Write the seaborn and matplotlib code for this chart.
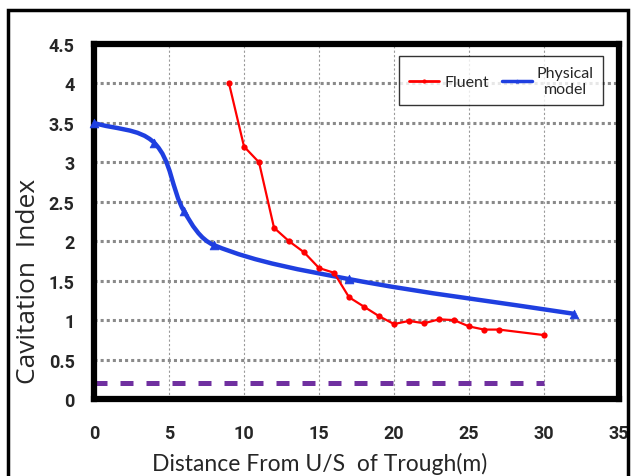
import matplotlib
matplotlib.use('Agg')
import matplotlib.pyplot as plt
from matplotlib.path import Path
from matplotlib.patches import PathPatch, Rectangle
from matplotlib.lines import Line2D
import seaborn as sns
import numpy as np
import pandas as pd

# data
fluent_x = [9, 10, 11, 12, 13, 14, 15, 16, 17, 18, 19, 20, 21, 22, 23, 24, 25, 26, 27, 30]
fluent_y = [4.0, 3.2, 3.0, 2.17, 2.0, 1.86, 1.66, 1.6, 1.29, 1.17, 1.05, 0.95, 0.99, 0.96, 1.01, 1.0, 0.92, 0.88, 0.88, 0.81]
phys_x = [0, 4, 6, 8, 17, 32]
phys_y = [3.5, 3.25, 2.38, 1.95, 1.52, 1.08]
limit_x = [0, 30]
limit_y = [0.2, 0.2]

x_ticks = [0, 5, 10, 15, 20, 25, 30, 35]
x_ticklabels = ['0', '5', '10', '15', '20', '25', '30', '35']
y_ticks = [0, 0.5, 1, 1.5, 2, 2.5, 3, 3.5, 4, 4.5]
y_ticklabels = ['0', '0.5', '1', '1.5', '2', '2.5', '3', '3.5', '4', '4.5']

fluent_df = pd.DataFrame({'x': fluent_x, 'y': fluent_y})
phys_df = pd.DataFrame({'x': phys_x, 'y': phys_y})

sns.set_style('white')
plt.rcParams['font.family'] = ['Lato', 'DejaVu Sans']

fig = plt.figure(figsize=(6.33, 4.77), dpi=100)
ax = fig.add_axes([0.1485, 0.1614, 0.8295, 0.7443])

# gridlines
for v in y_ticks[1:-1]:
    ax.axhline(v, color='#8a8a8a', lw=2.2, ls=(0, (1, 1)), zorder=1)
for v in x_ticks[1:-1]:
    ax.axvline(v, color='#9a9a9a', lw=0.8, ls=(0, (2, 2)), zorder=1)

# dashed limit line
ax.plot(limit_x, limit_y, color='#7030A0', lw=3.6, ls=(0, (2.6, 2.6)), zorder=2)

# fluent series
sns.lineplot(data=fluent_df, x='x', y='y', sort=False, color='#ff0000', lw=1.6,
             marker='o', markersize=4.5, markeredgewidth=0, ax=ax, zorder=4)

# physical model: smoothed line drawn as a bezier path through the points
sx, sy = 15.0, 79.0  # approx px per unit, so tangents follow the drawn shape
pts = np.column_stack([np.array(phys_x) * sx, np.array(phys_y) * sy]).astype(float)
n = len(pts)
tang = np.zeros_like(pts)
for i in range(n):
    a = pts[max(i - 1, 0)]
    b = pts[min(i + 1, n - 1)]
    d = b - a
    tang[i] = d / np.linalg.norm(d)
verts = [tuple(pts[0])]
codes = [Path.MOVETO]
for i in range(n - 1):
    L = np.linalg.norm(pts[i + 1] - pts[i]) / 3
    c1 = pts[i] + tang[i] * L
    c2 = pts[i + 1] - tang[i + 1] * L
    verts += [tuple(c1), tuple(c2), tuple(pts[i + 1])]
    codes += [Path.CURVE4] * 3
verts = [(vx / sx, vy / sy) for vx, vy in verts]
ax.add_patch(PathPatch(Path(verts, codes), fill=False, edgecolor='#1f3fe0', lw=3.2, zorder=3))
sns.scatterplot(data=phys_df, x='x', y='y', color='#1f3fe0', marker='^', s=40,
                edgecolor='#1f3fe0', ax=ax, zorder=5, clip_on=False)

ax.set_xlim(0, 35)
ax.set_ylim(0, 4.5)
tick_font = {'family': ['Roboto', 'DejaVu Sans'], 'weight': 'bold', 'size': 13}
ax.set_xticks(x_ticks)
ax.set_xticklabels(x_ticklabels, fontdict=tick_font)
ax.set_yticks(y_ticks)
ax.set_yticklabels(y_ticklabels, fontdict=tick_font)
ax.tick_params(axis='both', length=0)
ax.tick_params(axis='x', pad=18)
ax.tick_params(axis='y', pad=14)

for sp in ax.spines.values():
    sp.set_visible(True)
    sp.set_color('black')
    sp.set_linewidth(4.5)

ax.set_xlabel('Distance From U/S  of Trough(m)', fontsize=16.5)
ax.set_ylabel('Cavitation  Index', fontsize=19, family=['Open Sans', 'DejaVu Sans'])
ax.xaxis.set_label_coords(0.43, -0.148)
ax.yaxis.set_label_coords(-0.1, 0.335)

handles = [Line2D([], [], color='#ff0000', lw=2, marker='o', markersize=2),
           Line2D([], [], color='#1f3fe0', lw=2.5, marker='^', markersize=2)]
leg = ax.legend(handles, ['Fluent', 'Physical\nmodel'], ncol=2, loc='upper right',
                bbox_to_anchor=(0.97, 0.966), frameon=True, fancybox=False,
                fontsize=11.5, handlelength=1.9, handletextpad=0.3, columnspacing=0.8,
                borderpad=0.6, borderaxespad=0)
leg.get_frame().set_edgecolor('black')
leg.get_frame().set_linewidth(1.0)
for t in leg.get_texts():
    t.set_multialignment('center')

# outer chart border
fig.patches.append(Rectangle((8 / 633, -0.02), 620 / 633, 1 - 11 / 477 + 0.02,
                             transform=fig.transFigure, fill=False,
                             edgecolor='black', lw=2.5))

fig.savefig('out.png', dpi=100)
